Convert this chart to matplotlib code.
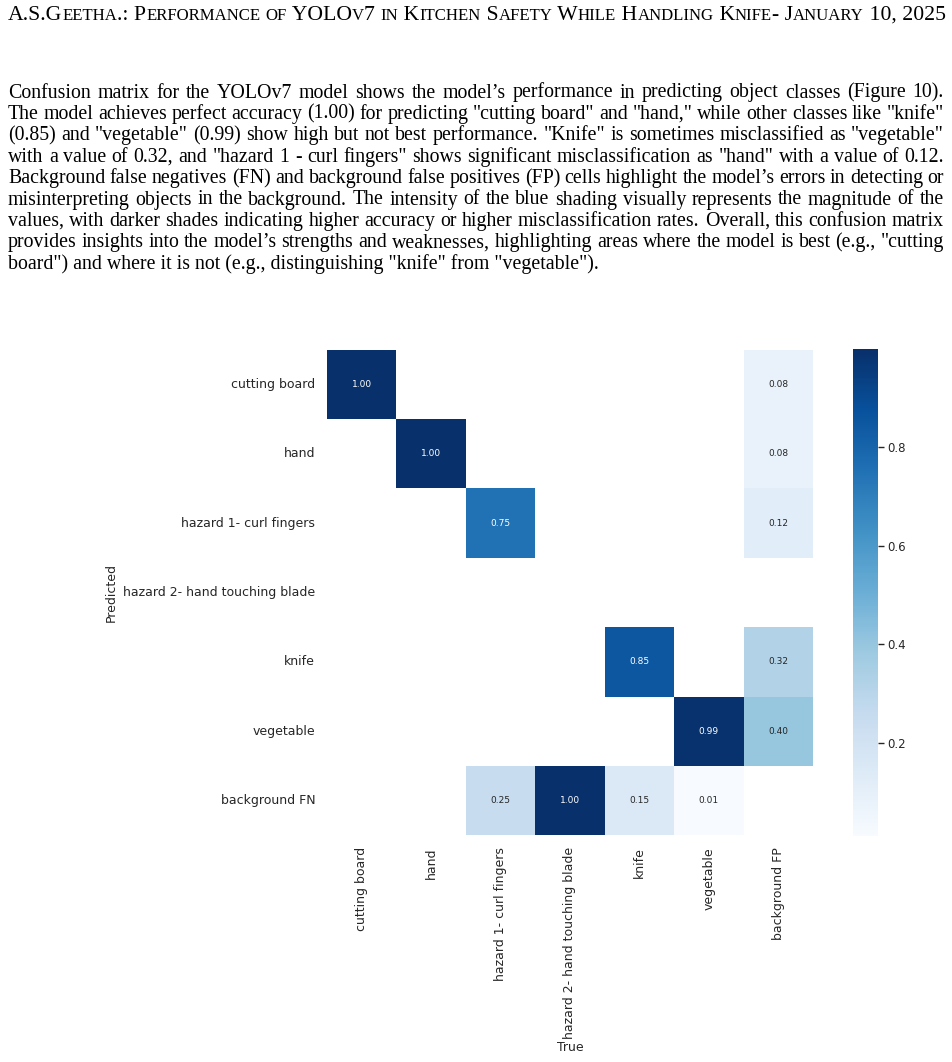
import re
import numpy as np
import matplotlib
matplotlib.use('Agg')
import matplotlib.pyplot as plt
import seaborn as sns

W, H = 952, 1062

header = "A.S.Geetha.: Performance of YOLOv7 in Kitchen Safety While Handling Knife- January 10, 2025"

para_lines = [
    "Confusion matrix for the YOLOv7 model shows the model\u2019s performance in predicting object classes (Figure 10).",
    "The model achieves perfect accuracy (1.00) for predicting \"cutting board\" and \"hand,\" while other classes like \"knife\"",
    "(0.85) and \"vegetable\" (0.99) show high but not best performance. \"Knife\" is sometimes misclassified as \"vegetable\"",
    "with a value of 0.32, and \"hazard 1 - curl fingers\" shows significant misclassification as \"hand\" with a value of 0.12.",
    "Background false negatives (FN) and background false positives (FP) cells highlight the model\u2019s errors in detecting or",
    "misinterpreting objects in the background. The intensity of the blue shading visually represents the magnitude of the",
    "values, with darker shades indicating higher accuracy or higher misclassification rates. Overall, this confusion matrix",
    "provides insights into the model\u2019s strengths and weaknesses, highlighting areas where the model is best (e.g., \"cutting",
    "board\") and where it is not (e.g., distinguishing \"knife\" from \"vegetable\").",
]

true_labels = ['cutting board', 'hand', 'hazard 1- curl fingers', 'hazard 2- hand touching blade',
               'knife', 'vegetable', 'background FP']
pred_labels = ['cutting board', 'hand', 'hazard 1- curl fingers', 'hazard 2- hand touching blade',
               'knife', 'vegetable', 'background FN']

nan = np.nan
# rows = predicted, cols = true
conf = np.array([
    [1.00, nan, nan, nan, nan, nan, 0.08],
    [nan, 1.00, nan, nan, nan, nan, 0.08],
    [nan, nan, 0.75, nan, nan, nan, 0.12],
    [nan, nan, nan, nan, nan, nan, nan],
    [nan, nan, nan, nan, 0.85, nan, 0.32],
    [nan, nan, nan, nan, nan, 0.99, 0.40],
    [nan, nan, 0.25, 1.00, 0.15, 0.01, nan],
])
cbar_ticks = [0.2, 0.4, 0.6, 0.8]

serif = 'Liberation Serif'
dark = '#262626'

fig = plt.figure(figsize=(W / 100, H / 100), dpi=100)
renderer = fig.canvas.get_renderer()


def width_of(s, **kw):
    t = fig.text(0, 0, s, **kw)
    w = t.get_window_extent(renderer).width
    t.remove()
    return w


# running header in small caps, stretched to the text width
left, right = 8, 944
big, small = 13, 10
toks = re.findall(r'[a-z]+|[^a-z]+', header)
runs = [(t.upper(), small) if t.islower() else (t, big) for t in toks]
adv = lambda s, size: width_of(s + 'I', fontsize=size, family=serif) - width_of('I', fontsize=size, family=serif)
scale = (right - left) / sum(adv(s, size) for s, size in runs)
x = left
for s, size in runs:
    size = size * scale
    fig.text(x / W, 1 - 19.5 / H, s, fontsize=size, family=serif, va='baseline', ha='left')
    x += adv(s, size)

# justified paragraph
fs = 14.35
y0, dy = 97.5, 21.4
for i, line in enumerate(para_lines):
    y = 1 - (y0 + i * dy) / H
    if i == len(para_lines) - 1:
        fig.text(left / W, y, line, fontsize=fs, family=serif, va='baseline', ha='left')
        continue
    words = line.split(' ')
    ws = [width_of(w, fontsize=fs, family=serif) for w in words]
    gap = (right - left - sum(ws)) / (len(words) - 1)
    x = left
    for w, ww in zip(words, ws):
        fig.text(x / W, y, w, fontsize=fs, family=serif, va='baseline', ha='left')
        x += ww + gap

# confusion matrix
ax = fig.add_axes([327 / W, 1 - 836 / H, 486 / W, 487 / H])
cax = fig.add_axes([853 / W, 1 - 836 / H, 25 / W, 487 / H])
sns.heatmap(conf, ax=ax, cbar_ax=cax, annot=True, fmt='.2f', annot_kws={'size': 6.5},
            cmap='Blues', square=True, xticklabels=true_labels, yticklabels=pred_labels)
ax.set_facecolor((1, 1, 1))

ax.tick_params(length=0, labelsize=9, labelcolor=dark, pad=8.5)
plt.setp(ax.get_xticklabels(), rotation=90)
plt.setp(ax.get_yticklabels(), rotation=0)
ax.set_xlabel('True', fontsize=9, color=dark)
ax.set_ylabel('Predicted', fontsize=9, color=dark)
ax.xaxis.set_label_coords(0.5, -0.423)
ax.yaxis.set_label_coords(-0.43, 0.5)

cax.set_yticks(cbar_ticks)
cax.set_yticklabels([f'{t:.1f}' for t in cbar_ticks])
cax.tick_params(labelsize=8.5, labelcolor=dark, length=4, width=1, color=dark, pad=3)
for s in cax.spines.values():
    s.set_visible(False)

fig.savefig('out.png', dpi=100, facecolor='white')
